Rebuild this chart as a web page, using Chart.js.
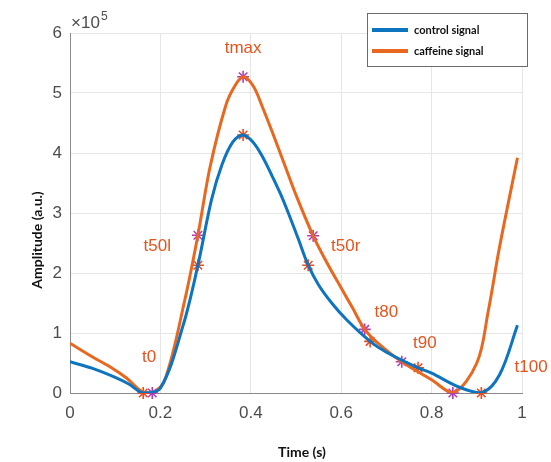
<!DOCTYPE html>
<html>
<head>
<meta charset="utf-8">
<script src="https://cdn.jsdelivr.net/npm/chart.js@4.4.0/dist/chart.umd.min.js"></script>
<style>
  html, body { margin: 0; background: #fff; }
  #wrap { width: 551px; height: 462px; }
</style>
</head>
<body>
<div id="wrap"><canvas id="c"></canvas></div>
<script>
// signal samples (time in s, amplitude in a.u.)
const controlTime = [0, 0.05, 0.1, 0.13, 0.162, 0.2, 0.25, 0.283, 0.313, 0.336, 0.36, 0.383, 0.405, 0.425, 0.445, 0.465, 0.483, 0.505, 0.527, 0.55, 0.579, 0.612, 0.664, 0.7, 0.77, 0.8, 0.86, 0.91, 0.95, 0.99];
const controlAmp = [52000, 41000, 26000, 15000, 0, 8000, 112000, 213000, 322000, 380000, 418000, 430000, 418000, 395000, 365000, 333000, 300000, 257000, 213000, 180000, 150000, 122000, 86000, 68000, 42000, 33000, 10000, 0, 30000, 113000];
const caffeineTime = [0, 0.05, 0.09, 0.125, 0.16, 0.182, 0.21, 0.254, 0.283, 0.31, 0.345, 0.365, 0.383, 0.405, 0.425, 0.45, 0.475, 0.5, 0.538, 0.57, 0.6, 0.625, 0.652, 0.68, 0.734, 0.8, 0.847, 0.9, 0.925, 0.95, 0.99];
const caffeineAmp = [83000, 60000, 43000, 25000, 2000, 0, 22000, 155000, 263000, 377000, 480000, 512000, 527000, 512000, 478000, 430000, 380000, 330000, 262000, 215000, 175000, 142000, 106000, 84000, 52000, 22000, 0, 50000, 135000, 242000, 392000];

// feature points: t0, t50l, tmax, t50r, t80, t90, t100
const markNames = ['t0', 't50l', 'tmax', 't50r', 't80', 't90', 't100'];
const controlMarkTime = [0.162, 0.283, 0.383, 0.527, 0.664, 0.77, 0.91];
const controlMarkAmp = [0, 213000, 430000, 213000, 86000, 42000, 0];
const caffeineMarkTime = [0.182, 0.283, 0.383, 0.538, 0.652, 0.734, 0.847];
const caffeineMarkAmp = [0, 263000, 527000, 262000, 106000, 52000, 0];
const labelTime = [0.175, 0.193, 0.383, 0.61, 0.70, 0.785, 1.02];
const labelAmp = [60000, 245000, 575000, 245000, 135000, 83000, 43000];

const xTicks = [0, 0.2, 0.4, 0.6, 0.8, 1];
const yTicks = [0, 1, 2, 3, 4, 5, 6];
const seriesNames = ['control signal', 'caffeine signal'];

const BLUE = '#0d74c0';
const ORANGE = '#e8681f';
const LABEL = '#e8531d';

const toPts = (xs, ys) => xs.map((x, i) => ({ x, y: ys[i] }));

const overlay = {
    id: 'overlay',
    afterDraw(chart) {
        const ctx = chart.ctx;
        const xs = chart.scales.x, ys = chart.scales.y;
        ctx.save();
        // feature labels
        ctx.fillStyle = LABEL;
        ctx.font = '17px "Liberation Sans", Arial, sans-serif';
        ctx.textAlign = 'center';
        ctx.textBaseline = 'middle';
        markNames.forEach((n, i) => {
            ctx.fillText(n, xs.getPixelForValue(labelTime[i]), ys.getPixelForValue(labelAmp[i]));
        });
        // exponent
        ctx.fillStyle = '#4d4d4d';
        ctx.textAlign = 'left';
        ctx.textBaseline = 'alphabetic';
        ctx.font = '17px "Liberation Sans", Arial, sans-serif';
        ctx.fillText('\u00d710', 71, 28);
        ctx.font = '12px "Liberation Sans", Arial, sans-serif';
        ctx.fillText('5', 101, 20);
        // axis titles
        ctx.fillStyle = '#111';
        ctx.font = 'bold 14px Lato, "Liberation Sans", sans-serif';
        ctx.textAlign = 'center';
        ctx.textBaseline = 'middle';
        ctx.fillText('Time (s)', 302, 452);
        ctx.translate(37, 240);
        ctx.rotate(-Math.PI / 2);
        ctx.fillText('Amplitude (a.u.)', 0, 0);
        ctx.setTransform(1, 0, 0, 1, 0, 0);
        // legend
        ctx.fillStyle = '#fff';
        ctx.fillRect(367.5, 13.5, 160, 53);
        ctx.strokeStyle = '#6b6b6b';
        ctx.lineWidth = 1;
        ctx.strokeRect(367.5, 13.5, 160, 53);
        [BLUE, ORANGE].forEach((c, i) => {
            const y = 30 + i * 21;
            ctx.strokeStyle = c;
            ctx.lineWidth = 4;
            ctx.beginPath();
            ctx.moveTo(372, y);
            ctx.lineTo(408, y);
            ctx.stroke();
            ctx.fillStyle = '#111';
            ctx.font = 'bold 11px Lato, "Liberation Sans", sans-serif';
            ctx.textAlign = 'left';
            ctx.fillText(seriesNames[i], 414, y);
        });
        ctx.restore();
    }
};

new Chart(document.getElementById('c'), {
    type: 'scatter',
    data: {
        datasets: [
            {
                label: seriesNames[0],
                data: toPts(controlTime, controlAmp),
                showLine: true,
                borderColor: BLUE,
                borderWidth: 3,
                pointRadius: 0,
                tension: 0.35
            },
            {
                label: seriesNames[1],
                data: toPts(caffeineTime, caffeineAmp),
                showLine: true,
                borderColor: ORANGE,
                borderWidth: 3,
                pointRadius: 0,
                tension: 0.35
            },
            {
                label: 'control features',
                data: toPts(controlMarkTime, controlMarkAmp),
                pointStyle: 'star',
                pointRadius: 6,
                borderColor: '#f04a1c',
                borderWidth: 1.6,
                clip: false
            },
            {
                label: 'caffeine features',
                data: toPts(caffeineMarkTime, caffeineMarkAmp),
                pointStyle: 'star',
                pointRadius: 6,
                borderColor: '#b23db8',
                borderWidth: 1.6,
                clip: false
            }
        ]
    },
    options: {
        responsive: true,
        maintainAspectRatio: false,
        animation: false,
        layout: { padding: { left: 0, right: 29, top: 33, bottom: 0 } },
        plugins: { legend: { display: false }, tooltip: { enabled: false } },
        scales: {
            x: {
                type: 'linear',
                min: 0,
                max: 1,
                afterBuildTicks: s => { s.ticks = xTicks.map(v => ({ value: v })); },
                afterFit: s => { s.height = 69; },
                ticks: {
                    color: '#4d4d4d',
                    font: { family: '"Liberation Sans", Arial, sans-serif', size: 17 },
                    padding: 10,
                    maxRotation: 0,
                    callback: v => String(+v.toFixed(1))
                },
                grid: { color: '#e6e6e6', drawTicks: false },
                border: { color: '#8a8a8a' }
            },
            y: {
                min: 0,
                max: 600000,
                afterBuildTicks: s => { s.ticks = yTicks.map(v => ({ value: v * 100000 })); },
                afterFit: s => { s.width = 70; },
                ticks: {
                    color: '#4d4d4d',
                    font: { family: '"Liberation Sans", Arial, sans-serif', size: 17 },
                    padding: 8,
                    callback: v => String(v / 100000)
                },
                grid: { color: '#e6e6e6', drawTicks: false },
                border: { color: '#8a8a8a' }
            }
        }
    },
    plugins: [overlay]
});
</script>
</body>
</html>
